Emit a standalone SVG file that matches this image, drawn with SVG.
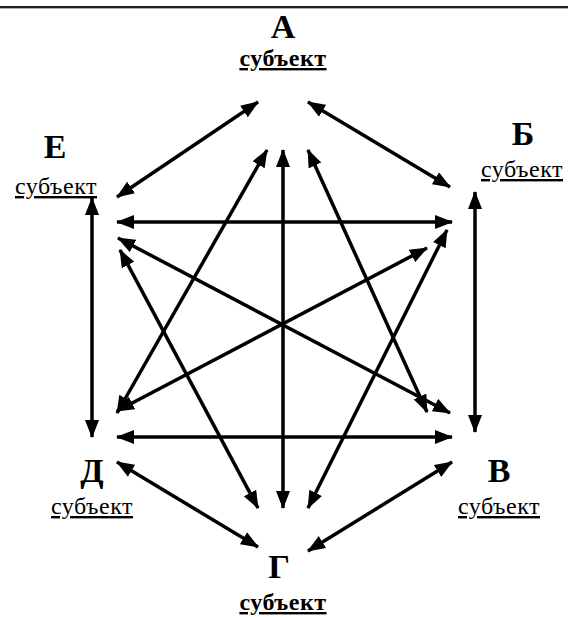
<svg xmlns="http://www.w3.org/2000/svg" width="568" height="617" viewBox="0 0 568 617">
<style>
text{font-family:"Liberation Serif","DejaVu Serif","Times New Roman",serif;fill:#000;text-anchor:middle}
.cap{font-weight:bold;font-size:34px}
.sub{font-size:24px;text-decoration:underline;letter-spacing:0.5px}
.b{font-weight:bold}
.c line{stroke:#000;stroke-width:3.5;marker-start:url(#ah);marker-end:url(#ah)}
</style>
<defs>
<marker id="ah" viewBox="0 0 18 14" markerWidth="18" markerHeight="14" refX="17" refY="7" markerUnits="userSpaceOnUse" orient="auto-start-reverse">
<path d="M0,0 L18,7 L0,14 z" fill="#000"/>
</marker>
</defs>
<rect x="0" y="0" width="568" height="617" fill="#fff"/>
<line x1="0" y1="7" x2="568" y2="7" stroke="#222" stroke-width="2"/>
<line x1="0" y1="8.5" x2="568" y2="8.5" stroke="#aaa" stroke-width="1"/>
<g id="node-A"><text class="cap" x="283" y="38">А</text><text class="sub b" x="283" y="66">субъект</text></g>
<g id="node-B"><text class="cap" x="523" y="145">Б</text><text class="sub" x="522" y="177">субъект</text></g>
<g id="node-V"><text class="cap" x="499" y="482">В</text><text class="sub" x="499" y="514">субъект</text></g>
<g id="node-G"><text class="cap" x="279" y="578">Г</text><text class="sub b" x="283" y="610">субъект</text></g>
<g id="node-D"><text class="cap" x="92" y="482">Д</text><text class="sub" x="92" y="514">субъект</text></g>
<g id="node-E"><text class="cap" x="55" y="158">Е</text><text class="sub" x="56" y="194">субъект</text></g>
<g id="connectors" class="c">
<line x1="258" y1="102" x2="117" y2="197"/>
<line x1="308" y1="102" x2="450" y2="187"/>
<line x1="475" y1="192" x2="475" y2="432"/>
<line x1="92" y1="198" x2="92" y2="437"/>
<line x1="117" y1="462" x2="258" y2="547"/>
<line x1="452" y1="462" x2="308" y2="551"/>
<line x1="117" y1="222" x2="452" y2="222"/>
<line x1="117" y1="437" x2="452" y2="437"/>
<line x1="283" y1="150" x2="283" y2="508"/>
<line x1="267" y1="150" x2="117" y2="413"/>
<line x1="308" y1="150" x2="427" y2="412"/>
<line x1="120" y1="250" x2="258" y2="508"/>
<line x1="447" y1="230" x2="308" y2="508"/>
<line x1="118" y1="238" x2="450" y2="413"/>
<line x1="427" y1="248" x2="117" y2="411"/>
</g>
</svg>
